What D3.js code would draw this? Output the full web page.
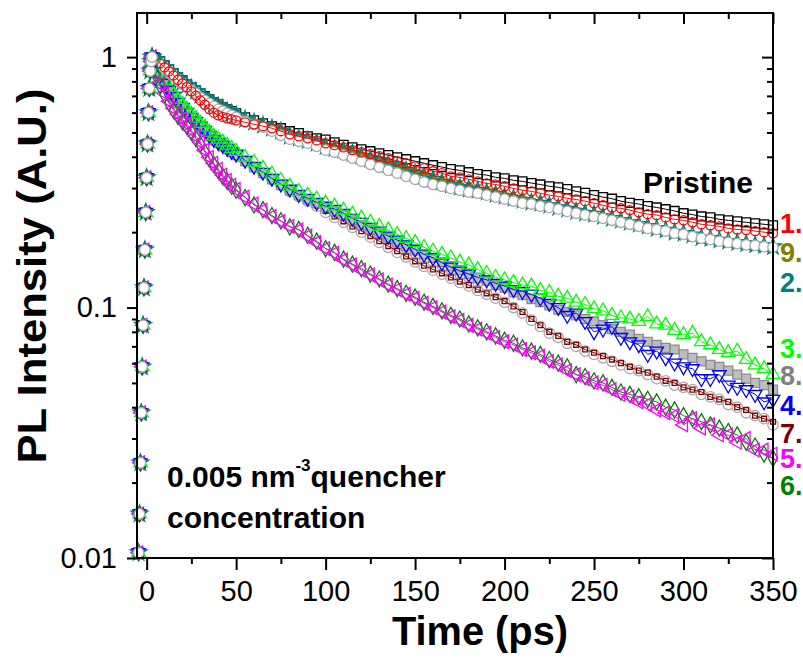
<!DOCTYPE html>
<html>
<head>
<meta charset="utf-8">
<script src="https://cdn.jsdelivr.net/npm/d3@7"></script>
<style>
  body { margin: 0; background: #fff; }
  svg text { font-family: "Liberation Sans", Arial, sans-serif; }
</style>
</head>
<body>
<svg id="chart" width="803" height="659"></svg>
<script>
// time grid (ps): rising edge, then 2.5 ps steps to 50 ps, then 5 ps steps
var riseTimes = [-4.5,-4,-3.5,-3,-2.5,-2,-1.5,-1,-0.5,0,0.5,1,1.5,2,2.5,3];
var riseValues = [0.0105,0.015,0.024,0.038,0.058,0.085,0.12,0.17,0.24,0.33,0.45,0.6,0.75,0.88,0.96,1.0];
var decayTimes = [5,7.5,10,12.5,15,17.5,20,22.5,25,27.5,30,32.5,35,37.5,40,42.5,45,47.5,50,
  55,60,65,70,75,80,85,90,95,100,105,110,115,120,125,130,135,140,145,150,
  155,160,165,170,175,180,185,190,195,200,205,210,215,220,225,230,235,240,245,250,
  255,260,265,270,275,280,285,290,295,300,305,310,315,320,325,330,335,340,345,350];

// normalised PL decay of each sample
var pristine = [0.988,0.961,0.927,0.893,0.861,0.830,0.808,0.779,0.757,0.737,0.717,0.698,0.678,0.660,0.648,0.630,0.619,0.608,0.596,
  0.575,0.559,0.544,0.529,0.520,0.506,0.497,0.483,0.474,0.468,0.457,0.446,0.436,0.428,0.421,0.413,0.406,0.398,0.391,0.384,
  0.377,0.370,0.364,0.357,0.353,0.347,0.341,0.338,0.331,0.328,0.322,0.319,0.314,0.310,0.305,0.302,0.297,0.291,0.287,0.281,
  0.276,0.272,0.266,0.262,0.259,0.254,0.251,0.247,0.243,0.238,0.235,0.231,0.229,0.225,0.223,0.221,0.219,0.217,0.215,0.213];
var s1 = [0.979,0.944,0.910,0.877,0.845,0.812,0.785,0.758,0.730,0.702,0.672,0.645,0.620,0.600,0.586,0.577,0.570,0.564,0.559,
  0.549,0.539,0.530,0.520,0.506,0.492,0.483,0.474,0.465,0.453,0.445,0.436,0.425,0.417,0.410,0.402,0.395,0.384,0.377,0.366,
  0.360,0.350,0.344,0.334,0.331,0.325,0.319,0.313,0.310,0.305,0.299,0.294,0.291,0.286,0.281,0.278,0.273,0.270,0.266,0.261,
  0.256,0.251,0.249,0.245,0.240,0.236,0.234,0.229,0.225,0.223,0.219,0.215,0.213,0.211,0.207,0.205,0.204,0.202,0.200,0.198];
var s9 = [0.979,0.944,0.910,0.877,0.845,0.815,0.786,0.764,0.743,0.723,0.704,0.685,0.666,0.648,0.636,0.625,0.613,0.602,0.591,
  0.570,0.554,0.539,0.525,0.510,0.487,0.478,0.470,0.457,0.445,0.436,0.428,0.417,0.406,0.398,0.387,0.380,0.370,0.360,0.350,
  0.341,0.331,0.322,0.317,0.310,0.305,0.299,0.294,0.289,0.283,0.278,0.273,0.268,0.263,0.258,0.254,0.251,0.247,0.242,0.238,
  0.234,0.229,0.225,0.221,0.217,0.213,0.209,0.205,0.202,0.200,0.196,0.192,0.190,0.187,0.185,0.184,0.182,0.180,0.178,0.177];
var s2 = [0.979,0.944,0.910,0.877,0.845,0.815,0.793,0.771,0.750,0.730,0.704,0.685,0.666,0.648,0.636,0.625,0.608,0.596,0.586,
  0.564,0.549,0.534,0.520,0.506,0.483,0.474,0.465,0.453,0.440,0.432,0.425,0.413,0.402,0.391,0.384,0.373,0.363,0.353,0.344,
  0.334,0.325,0.317,0.308,0.302,0.297,0.294,0.289,0.283,0.278,0.273,0.268,0.263,0.261,0.256,0.251,0.247,0.242,0.238,0.236,
  0.231,0.227,0.223,0.219,0.215,0.211,0.207,0.204,0.200,0.198,0.195,0.190,0.189,0.186,0.184,0.182,0.180,0.178,0.177,0.175];
var upperRings = [0.970,0.935,0.901,0.869,0.838,0.808,0.779,0.757,0.737,0.717,0.690,0.672,0.654,0.636,0.619,0.608,0.596,0.586,0.575,
  0.554,0.539,0.525,0.506,0.487,0.470,0.461,0.453,0.440,0.425,0.417,0.406,0.395,0.384,0.373,0.363,0.353,0.344,0.334,0.325,
  0.317,0.310,0.305,0.299,0.294,0.289,0.286,0.281,0.276,0.271,0.266,0.261,0.259,0.254,0.251,0.247,0.242,0.238,0.234,0.231,
  0.227,0.223,0.219,0.215,0.211,0.207,0.205,0.202,0.198,0.196,0.192,0.189,0.187,0.184,0.182,0.180,0.178,0.177,0.175,0.174];
var s3 = [0.944,0.869,0.808,0.757,0.717,0.678,0.648,0.619,0.591,0.570,0.544,0.525,0.501,0.483,0.470,0.457,0.445,0.432,0.420,
  0.398,0.380,0.360,0.341,0.322,0.305,0.291,0.281,0.271,0.261,0.254,0.245,0.236,0.228,0.219,0.211,0.204,0.196,0.189,0.182,
  0.174,0.168,0.163,0.158,0.152,0.148,0.142,0.137,0.132,0.129,0.126,0.123,0.122,0.117,0.115,0.111,0.109,0.105,0.103,0.099,
  0.097,0.093,0.091,0.090,0.088,0.092,0.086,0.085,0.081,0.078,0.079,0.073,0.071,0.068,0.066,0.067,0.062,0.059,0.057,0.054];
var s8 = [0.918,0.838,0.779,0.730,0.690,0.654,0.625,0.596,0.570,0.549,0.525,0.506,0.483,0.465,0.453,0.440,0.428,0.417,0.406,
  0.384,0.363,0.344,0.325,0.308,0.294,0.281,0.271,0.261,0.251,0.242,0.234,0.223,0.213,0.205,0.198,0.190,0.182,0.176,0.169,
  0.163,0.158,0.152,0.146,0.141,0.136,0.131,0.128,0.123,0.120,0.115,0.112,0.108,0.105,0.102,0.098,0.096,0.093,0.090,0.088,
  0.085,0.082,0.080,0.078,0.075,0.073,0.071,0.069,0.068,0.065,0.063,0.061,0.059,0.058,0.056,0.054,0.052,0.050,0.049,0.047];
var s4 = [0.927,0.845,0.786,0.737,0.697,0.660,0.630,0.602,0.575,0.554,0.530,0.510,0.487,0.470,0.457,0.445,0.432,0.420,0.410,
  0.387,0.366,0.347,0.328,0.311,0.297,0.283,0.273,0.263,0.254,0.247,0.238,0.227,0.219,0.209,0.202,0.193,0.186,0.178,0.171,
  0.163,0.158,0.151,0.145,0.140,0.136,0.132,0.129,0.125,0.122,0.118,0.116,0.113,0.109,0.104,0.100,0.093,0.095,0.088,0.080,
  0.082,0.084,0.076,0.073,0.071,0.065,0.067,0.063,0.060,0.058,0.057,0.052,0.052,0.054,0.049,0.048,0.047,0.045,0.042,0.043];
var s7 = [0.927,0.853,0.793,0.743,0.704,0.666,0.636,0.608,0.580,0.559,0.534,0.515,0.492,0.474,0.461,0.449,0.436,0.425,0.413,
  0.391,0.370,0.350,0.331,0.312,0.294,0.280,0.268,0.256,0.243,0.231,0.221,0.211,0.202,0.193,0.184,0.176,0.168,0.160,0.153,
  0.147,0.142,0.137,0.132,0.127,0.123,0.118,0.114,0.110,0.106,0.101,0.096,0.090,0.085,0.080,0.077,0.073,0.071,0.068,0.066,
  0.064,0.062,0.060,0.058,0.056,0.055,0.053,0.051,0.050,0.048,0.047,0.046,0.044,0.043,0.042,0.040,0.039,0.037,0.036,0.035];
var middleRings = [0.918,0.845,0.786,0.737,0.697,0.660,0.630,0.602,0.575,0.554,0.530,0.510,0.487,0.470,0.457,0.445,0.432,0.420,0.410,
  0.384,0.363,0.344,0.325,0.308,0.291,0.278,0.266,0.254,0.240,0.229,0.219,0.209,0.200,0.191,0.182,0.174,0.166,0.159,0.152,
  0.146,0.141,0.136,0.131,0.126,0.122,0.117,0.113,0.109,0.105,0.100,0.095,0.089,0.084,0.079,0.076,0.072,0.070,0.067,0.065,
  0.063,0.061,0.059,0.057,0.056,0.054,0.052,0.051,0.049,0.048,0.047,0.045,0.044,0.043,0.041,0.040,0.038,0.037,0.036,0.034];
var s5 = [0.861,0.779,0.717,0.666,0.625,0.591,0.564,0.539,0.510,0.483,0.457,0.425,0.398,0.377,0.357,0.338,0.322,0.308,0.296,
  0.276,0.259,0.245,0.231,0.221,0.211,0.204,0.193,0.182,0.172,0.165,0.155,0.148,0.141,0.135,0.129,0.123,0.118,0.113,0.109,
  0.104,0.100,0.096,0.092,0.089,0.085,0.082,0.079,0.076,0.073,0.071,0.068,0.066,0.064,0.061,0.059,0.056,0.054,0.052,0.050,
  0.049,0.047,0.045,0.044,0.042,0.041,0.039,0.038,0.037,0.034,0.036,0.033,0.034,0.031,0.031,0.029,0.030,0.027,0.027,0.026];
var s6 = [0.853,0.770,0.706,0.655,0.614,0.580,0.553,0.528,0.500,0.473,0.448,0.418,0.392,0.372,0.352,0.334,0.319,0.305,0.294,
  0.275,0.257,0.246,0.233,0.222,0.210,0.205,0.194,0.184,0.172,0.166,0.156,0.149,0.143,0.136,0.130,0.124,0.119,0.114,0.110,
  0.105,0.101,0.097,0.093,0.090,0.086,0.083,0.080,0.077,0.074,0.072,0.069,0.067,0.065,0.062,0.060,0.058,0.054,0.053,0.051,
  0.050,0.048,0.046,0.045,0.044,0.043,0.042,0.040,0.039,0.037,0.036,0.035,0.034,0.033,0.032,0.031,0.029,0.028,0.026,0.025];

// axes ticks
var xMajorTicks = [0,50,100,150,200,250,300,350];
var xMinorTicks = [25,75,125,175,225,275,325];
var yMajorTicks = [0.01,0.1,1];
var yTickLabels = ["0.01","0.1","1"];
var yMinorTicks = [0.02,0.03,0.04,0.05,0.06,0.07,0.08,0.09,0.2,0.3,0.4,0.5,0.6,0.7,0.8,0.9];

// labels at the right edge
var labelNames = ["1.","9.","2.","3.","8.","4.","7.","5.","6."];
var labelColors = ["#ff0000","#808000","#008080","#00ff00","#808080","#0000ff","#800000","#ff00ff","#008000"];
var labelBaselines = [233,262,292,358,385,415,443,468,495];

var svg = d3.select("#chart");
var plotLeft = 137, plotRight = 773, plotTop = 13, plotBottom = 558;

var x = d3.scaleLinear().domain([-5.4, 350]).range([plotLeft, plotRight]);
var y = d3.scaleLog().domain([0.01, 1.5]).range([plotBottom, plotTop]);

// drawing order: lowest layer first
var series = [
  {values: middleRings, stroke: "#a8a8a8", fill: "#fff", type: d3.symbolCircle, size: 85, rot: 0},
  {values: s7, stroke: "#800000", fill: "none", type: d3.symbolSquare, size: 24, rot: 0},
  {values: s8, stroke: "#8c8c8c", fill: "#bdbdbd", type: d3.symbolSquare, size: 80, rot: 0},
  {values: s4, stroke: "#0000ff", fill: "none", type: d3.symbolTriangle, size: 80, rot: 180},
  {values: s3, stroke: "#00ff00", fill: "none", type: d3.symbolTriangle, size: 80, rot: 0},
  {values: s6, stroke: "#008000", fill: "none", type: d3.symbolDiamond, size: 75, rot: 0},
  {values: s5, stroke: "#ff00ff", fill: "none", type: d3.symbolTriangle, size: 80, rot: -90},
  {values: pristine, stroke: "#000000", fill: "none", type: d3.symbolSquare, size: 80, rot: 0},
  {values: s9, stroke: "#808000", fill: "#808000", type: d3.symbolCross, size: 35, rot: 0},
  {values: s2, stroke: "#008080", fill: "none", type: d3.symbolStar, size: 85, rot: 0},
  {values: upperRings, stroke: "#a8a8a8", fill: "#fff", type: d3.symbolCircle, size: 85, rot: 0},
  {values: s1, stroke: "#ff0000", fill: "none", type: d3.symbolCircle, size: 65, rot: 0}
];

var line = d3.line()
  .x(function(d) { return x(d.t); })
  .y(function(d) { return y(d.v); });

function drawMarkers(s, pts) {
  svg.append("g").selectAll("path")
    .data(pts)
    .enter()
    .append("path")
    .attr("d", d3.symbol().type(s.type).size(s.size))
    .attr("transform", function(d) {
      return "translate(" + x(d.t) + "," + y(d.v) + ") rotate(" + s.rot + ")";
    })
    .attr("fill", s.fill)
    .attr("stroke", s.stroke)
    .attr("stroke-width", 1.3);
}

// decays
series.forEach(function(s) {
  var pts = [{t: 3, v: 1}].concat(decayTimes.map(function(t, i) { return {t: t, v: s.values[i]}; }));
  svg.append("path")
    .datum(pts)
    .attr("d", line)
    .attr("fill", "none")
    .attr("stroke", s.stroke)
    .attr("stroke-width", 1);
  drawMarkers(s, pts);
});

// common rising edge, rings end up on top as in the figure
var risePts = riseTimes.map(function(t, i) { return {t: t, v: riseValues[i]}; });
[2, 3, 4, 5, 6, 8, 9, 11, 1, 7, 0, 10].forEach(function(k) {
  drawMarkers(series[k], risePts);
});

function styleAxis(g) {
  g.select(".domain").remove();
  g.selectAll("line").attr("stroke", "#000").attr("stroke-width", 2);
  g.selectAll("text")
    .attr("fill", "#000")
    .style("font-size", "29px")
    .style("font-family", "'Liberation Sans', Arial, sans-serif");
}

// bottom axis
svg.append("g")
  .attr("transform", "translate(0," + plotBottom + ")")
  .call(d3.axisBottom(x).tickValues(xMajorTicks).tickSize(12).tickPadding(10).tickFormat(d3.format("d")))
  .call(styleAxis);
svg.append("g")
  .attr("transform", "translate(0," + plotBottom + ")")
  .call(d3.axisBottom(x).tickValues(xMinorTicks).tickSize(6).tickFormat(""))
  .call(styleAxis);

// top axis, ticks inward
svg.append("g")
  .attr("transform", "translate(0," + plotTop + ")")
  .call(d3.axisTop(x).tickValues(xMajorTicks).tickSize(-11).tickFormat(""))
  .call(styleAxis);
svg.append("g")
  .attr("transform", "translate(0," + plotTop + ")")
  .call(d3.axisTop(x).tickValues(xMinorTicks).tickSize(-6).tickFormat(""))
  .call(styleAxis);

// left axis
svg.append("g")
  .attr("transform", "translate(" + plotLeft + ",0)")
  .call(d3.axisLeft(y).tickValues(yMajorTicks).tickSize(10).tickPadding(10)
    .tickFormat(function(d, i) { return yTickLabels[i]; }))
  .call(styleAxis);
svg.append("g")
  .attr("transform", "translate(" + plotLeft + ",0)")
  .call(d3.axisLeft(y).tickValues(yMinorTicks).tickSize(5).tickFormat(""))
  .call(styleAxis);

// right axis, ticks inward
svg.append("g")
  .attr("transform", "translate(" + plotRight + ",0)")
  .call(d3.axisRight(y).tickValues(yMajorTicks).tickSize(-11).tickFormat(""))
  .call(styleAxis);
svg.append("g")
  .attr("transform", "translate(" + plotRight + ",0)")
  .call(d3.axisRight(y).tickValues(yMinorTicks).tickSize(-6).tickFormat(""))
  .call(styleAxis);

// frame
svg.append("rect")
  .attr("x", plotLeft).attr("y", plotTop)
  .attr("width", plotRight - plotLeft).attr("height", plotBottom - plotTop)
  .attr("fill", "none").attr("stroke", "#000").attr("stroke-width", 2);

// axis titles
svg.append("text")
  .attr("x", 480).attr("y", 645)
  .attr("text-anchor", "middle")
  .attr("textLength", 176).attr("lengthAdjust", "spacingAndGlyphs")
  .style("font-size", "40px").style("font-weight", "bold")
  .text("Time (ps)");

svg.append("text")
  .attr("transform", "translate(46,276) rotate(-90)")
  .attr("text-anchor", "middle")
  .attr("textLength", 375).attr("lengthAdjust", "spacingAndGlyphs")
  .style("font-size", "40px").style("font-weight", "bold")
  .text("PL Intensity (A.U.)");

// annotation
var note = svg.append("text")
  .attr("x", 167).attr("y", 487)
  .style("font-size", "30px").style("font-weight", "bold");
note.append("tspan").text("0.005 nm");
note.append("tspan").attr("dy", -16).style("font-size", "17px").text("-3");
note.append("tspan").attr("dy", 16).text("quencher");

svg.append("text")
  .attr("x", 167).attr("y", 528)
  .style("font-size", "30px").style("font-weight", "bold")
  .text("concentration");

svg.append("text")
  .attr("x", 643).attr("y", 193)
  .style("font-size", "30px").style("font-weight", "bold")
  .text("Pristine");

// sample numbers at the right
svg.append("g").selectAll("text")
  .data(labelNames)
  .enter()
  .append("text")
  .attr("x", 780)
  .attr("y", function(d, i) { return labelBaselines[i]; })
  .attr("fill", function(d, i) { return labelColors[i]; })
  .style("font-size", "27px").style("font-weight", "bold")
  .text(function(d) { return d; });
</script>
</body>
</html>
